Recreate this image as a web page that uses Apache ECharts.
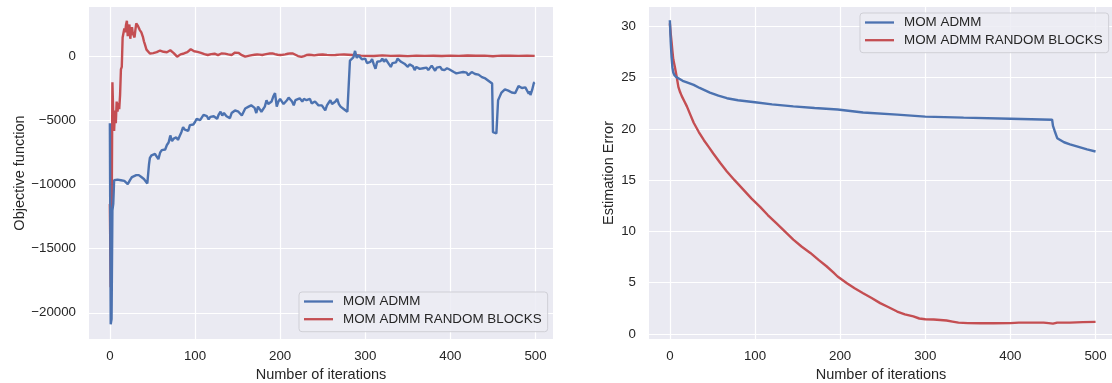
<!DOCTYPE html>
<html>
<head>
<meta charset="utf-8">
<script src="https://cdn.jsdelivr.net/npm/echarts@6/dist/echarts.min.js"></script>
<style>
html,body{margin:0;padding:0;background:#fff;}
#chart{width:1112px;height:383px;}
</style>
</head>
<body>
<div id="chart"></div>
<script>
// ---- data ----
const seriesNames = ['MOM ADMM', 'MOM ADMM RANDOM BLOCKS'];
const xTicks = [0, 100, 200, 300, 400, 500];
const leftYTicks = [-20000, -15000, -10000, -5000, 0];
const rightYTicks = [0, 5, 10, 15, 20, 25, 30];
const leftXLabel = 'Number of iterations';
const rightXLabel = 'Number of iterations';
const leftYLabel = 'Objective function';
const rightYLabel = 'Estimation Error';

// Objective function, MOM ADMM: [iteration, value]
const objBlue = [[0,-5200],[1,-20900],[2,-20500],[3,-12000],[4,-11500],[5,-9650],[7,-9800],[9,-9600],[11,-9750],[13,-9650],[15,-9800],[17,-9700],[19,-9850],[21,-9950],[22,-10050],[24,-9600],[26,-9400],[28,-9300],[31,-9250],[34,-9250],[37,-9400],[40,-9550],[42,-9700],[44,-9900],[45,-10000],[46,-8400],[47,-7900],[49,-7700],[51,-7750],[53,-7600],[55,-7500],[57,-8000],[59,-7500],[61,-7300],[63,-7200],[65,-7250],[67,-6900],[69,-6700],[71,-6150],[73,-6600],[75,-6400],[78,-6300],[80,-6500],[82,-6200],[84,-5900],[86,-5500],[88,-5700],[90,-5600],[92,-5800],[94,-5350],[96,-5500],[98,-5300],[100,-5100],[102,-4850],[104,-5000],[106,-4950],[108,-4800],[110,-4550],[112,-4700],[114,-4650],[116,-4900],[118,-4700],[120,-4600],[122,-4650],[124,-4750],[126,-4850],[128,-4500],[130,-4300],[132,-4600],[134,-4400],[137,-4650],[139,-4500],[141,-4800],[143,-4400],[145,-4450],[147,-4200],[149,-4050],[151,-4300],[153,-4250],[155,-4600],[157,-4500],[159,-4050],[161,-4100],[163,-3900],[166,-3800],[168,-3650],[170,-4000],[172,-4400],[174,-3900],[176,-4100],[178,-4300],[180,-4450],[182,-3900],[184,-3400],[186,-3700],[188,-3600],[190,-3500],[192,-3100],[194,-2850],[196,-3900],[198,-3500],[200,-3300],[202,-3450],[204,-3700],[206,-3600],[208,-3400],[210,-3200],[212,-3150],[214,-3500],[216,-3800],[218,-3400],[220,-3300],[223,-3250],[226,-3500],[228,-3300],[231,-3400],[233,-3250],[235,-3300],[237,-3650],[239,-3750],[241,-3500],[243,-3400],[245,-3800],[247,-3900],[249,-3800],[251,-4000],[253,-4200],[255,-3800],[257,-3600],[259,-3400],[261,-3700],[263,-3800],[265,-3500],[267,-3300],[269,-3700],[271,-3900],[273,-3900],[275,-4100],[277,-4200],[279,-4300],[281,-4350],[282,-300],[284,-200],[286,-50],[288,450],[289,300],[290,-100],[292,100],[294,250],[296,-200],[298,-300],[300,-150],[302,-500],[304,-350],[306,-400],[308,-200],[310,-600],[312,-950],[314,-400],[316,-250],[318,-350],[320,-150],[322,-400],[324,-200],[326,-100],[328,-600],[330,-800],[332,-500],[334,-400],[336,-450],[338,-150],[340,-300],[342,-400],[344,-500],[346,-550],[348,-700],[350,-800],[352,-600],[354,-700],[356,-750],[358,-1050],[360,-800],[362,-700],[364,-950],[366,-1100],[368,-900],[370,-1000],[372,-850],[374,-1050],[376,-950],[378,-700],[380,-900],[382,-1100],[384,-850],[386,-950],[388,-800],[390,-1000],[393,-1050],[396,-900],[399,-1000],[401,-1150],[404,-1200],[407,-1300],[409,-1450],[411,-1250],[413,-1150],[415,-1200],[417,-1350],[419,-1250],[421,-1450],[423,-1300],[425,-1200],[427,-1100],[429,-1350],[431,-1450],[433,-1400],[435,-1500],[437,-1600],[439,-1650],[441,-1700],[443,-1800],[445,-1900],[447,-2000],[449,-2100],[450,-5900],[452,-6050],[454,-6000],[455,-5950],[456,-3400],[458,-3100],[460,-2800],[462,-2700],[464,-2550],[466,-2600],[468,-2650],[470,-2700],[472,-2800],[474,-2850],[476,-2850],[478,-2700],[480,-2300],[482,-2350],[484,-2450],[486,-2500],[488,-2400],[490,-2500],[492,-2900],[493,-2700],[494,-3000],[496,-2600],[498,-2050],[499,-2000]];

// Objective function, MOM ADMM RANDOM BLOCKS
const objRed = [[0,-11500],[1,-18000],[2,-14000],[3,-2000],[4,-4500],[5,-5800],[6,-4200],[7,-5200],[8,-3500],[9,-4300],[10,-3600],[11,-4100],[12,-3000],[13,-1000],[14,-800],[15,1500],[16,1600],[17,2200],[18,1900],[19,2500],[20,2800],[21,1600],[22,2300],[23,2500],[24,1400],[25,2000],[26,2300],[27,1800],[29,1500],[30,2100],[31,2600],[32,2700],[33,2400],[35,2100],[37,1900],[38,1850],[39,1500],[40,1200],[41,1000],[43,550],[45,400],[47,250],[49,300],[51,280],[53,400],[55,350],[57,300],[59,480],[61,350],[63,380],[65,400],[67,350],[69,450],[71,500],[73,350],[75,280],[77,150],[79,0],[81,50],[83,180],[85,260],[87,250],[89,300],[91,350],[93,450],[95,580],[97,500],[99,420],[101,430],[103,380],[105,400],[107,300],[109,250],[111,200],[113,100],[115,130],[117,150],[119,200],[121,180],[123,230],[125,170],[127,120],[129,200],[131,250],[133,300],[135,240],[137,200],[139,180],[141,150],[143,130],[145,250],[147,320],[149,330],[151,300],[153,200],[155,120],[157,60],[159,0],[161,50],[164,80],[167,120],[170,150],[173,170],[176,160],[179,130],[182,180],[185,220],[188,250],[191,260],[194,200],[197,150],[200,130],[203,150],[206,180],[209,230],[212,260],[215,250],[218,150],[221,50],[223,0],[225,-20],[228,50],[231,130],[234,150],[237,130],[240,100],[245,150],[250,170],[255,140],[260,120],[265,130],[270,160],[275,170],[280,150],[285,130],[290,110],[295,80],[300,60],[310,50],[320,100],[330,60],[340,70],[350,40],[360,80],[370,60],[380,70],[390,50],[400,80],[410,60],[420,90],[430,70],[440,80],[450,30],[455,60],[460,70],[470,80],[480,60],[490,70],[499,60]];

// Estimation error, MOM ADMM
const errBlue = [[0,30.6],[1,28.5],[2,27.0],[3,26.0],[4,25.5],[5,25.3],[7,25.1],[10,24.95],[15,24.7],[20,24.55],[28,24.3],[35,24.0],[47,23.55],[57,23.25],[67,23.0],[80,22.8],[100,22.6],[120,22.4],[145,22.2],[170,22.05],[197,21.9],[227,21.6],[267,21.4],[300,21.2],[345,21.1],[400,21.0],[449,20.9],[450,20.3],[452,19.8],[455,19.1],[459,18.9],[463,18.7],[470,18.5],[482,18.2],[490,18.0],[500,17.8]];

// Estimation error, MOM ADMM RANDOM BLOCKS
const errRed = [[0,30.3],[1,29.3],[2,28.5],[3,27.6],[4,26.8],[6,26.0],[8,25.1],[10,24.1],[12,23.6],[14,23.2],[17,22.7],[20,22.2],[24,21.4],[28,20.6],[34,19.7],[40,18.9],[46,18.2],[51,17.6],[59,16.7],[67,15.85],[76,15.0],[86,14.1],[96,13.2],[106,12.4],[115,11.6],[125,10.8],[135,10.0],[145,9.2],[155,8.5],[165,7.9],[175,7.2],[184,6.6],[192,6.0],[197,5.6],[208,4.95],[217,4.45],[227,3.97],[237,3.5],[247,3.0],[257,2.6],[267,2.18],[276,1.9],[286,1.7],[293,1.5],[300,1.43],[310,1.4],[325,1.3],[332,1.2],[339,1.1],[350,1.05],[365,1.04],[380,1.03],[400,1.05],[410,1.1],[423,1.1],[439,1.1],[445,1.05],[447,0.95],[450,1.0],[455,1.1],[470,1.1],[485,1.15],[500,1.17]];

// ---- styling ----
const FONT = '"Liberation Sans", Arial, sans-serif';
const TXT = '#262626';
const BLUE = '#4C72B0';
const RED = '#C44E52';
const BG = '#EAEAF2';
const LEGEND_ICON = 'path://M0 0H29V2.3H0Z';

function xAxisFor(gi, name) {
  return {
    type: 'value', gridIndex: gi, min: -24.5, max: 520.5,
    axisLine: {show: false},
    axisTick: {show: false, customValues: xTicks},
    axisLabel: {customValues: xTicks, color: TXT, fontSize: 13.3, fontFamily: FONT, margin: 11},
    splitLine: {show: true, lineStyle: {color: '#ffffff', width: 1.2}},
    name: name, nameLocation: 'middle', nameGap: 28,
    nameTextStyle: {color: TXT, fontSize: 14.5, fontFamily: FONT}
  };
}
function yAxisFor(gi, name, min, max, ticks, gap) {
  return {
    type: 'value', gridIndex: gi, min: min, max: max,
    axisLine: {show: false},
    axisTick: {show: false, customValues: ticks},
    axisLabel: {customValues: ticks, color: TXT, fontSize: 13.3, fontFamily: FONT, margin: 13,
      formatter: v => (v < 0 ? '\u2212' + Math.abs(v) : String(v))},
    splitLine: {show: true, lineStyle: {color: '#ffffff', width: 1.2}},
    name: name, nameLocation: 'middle', nameGap: gap,
    nameTextStyle: {color: TXT, fontSize: 14.5, fontFamily: FONT}
  };
}
function legendAt(left, top) {
  return {
    data: seriesNames.map(n => ({name: n, icon: LEGEND_ICON})),
    orient: 'vertical', left: left, top: top,
    padding: [3, 6, 6, 5], itemGap: 4.7, itemWidth: 29, itemHeight: 14,
    backgroundColor: 'rgba(236,236,243,0.85)', borderColor: '#cfcfd6', borderWidth: 1, borderRadius: 3,
    textStyle: {color: TXT, fontSize: 13.4, fontFamily: FONT, padding: [0, 0, 0, 5]},
    selectedMode: false
  };
}
function lineSeries(name, xi, data, color) {
  return {
    name: name, type: 'line', xAxisIndex: xi, yAxisIndex: xi, data: data,
    symbol: 'none', smooth: false,
    lineStyle: {color: color, width: 2.4}, itemStyle: {color: color},
    z: name === seriesNames[0] ? 3 : 2
  };
}
function gridAt(left) {
  return {left: left, top: 7, width: 464, height: 332, show: true, backgroundColor: BG,
    borderWidth: 0, containLabel: false, outerBoundsMode: 'none'};
}

const chart = echarts.init(document.getElementById('chart'), null, {renderer: 'canvas'});
chart.setOption({
  animation: false,
  backgroundColor: '#ffffff',
  grid: [gridAt(89), gridAt(649)],
  xAxis: [xAxisFor(0, leftXLabel), xAxisFor(1, rightXLabel)],
  yAxis: [
    yAxisFor(0, leftYLabel, -22050, 3880, leftYTicks, 62),
    yAxisFor(1, rightYLabel, -0.5, 31.9, rightYTicks, 33)
  ],
  legend: [legendAt(299, 292), legendAt(860, 13)],
  series: [
    lineSeries(seriesNames[0], 0, objBlue, BLUE),
    lineSeries(seriesNames[1], 0, objRed, RED),
    lineSeries(seriesNames[0], 1, errBlue, BLUE),
    lineSeries(seriesNames[1], 1, errRed, RED)
  ]
});
</script>
</body>
</html>
